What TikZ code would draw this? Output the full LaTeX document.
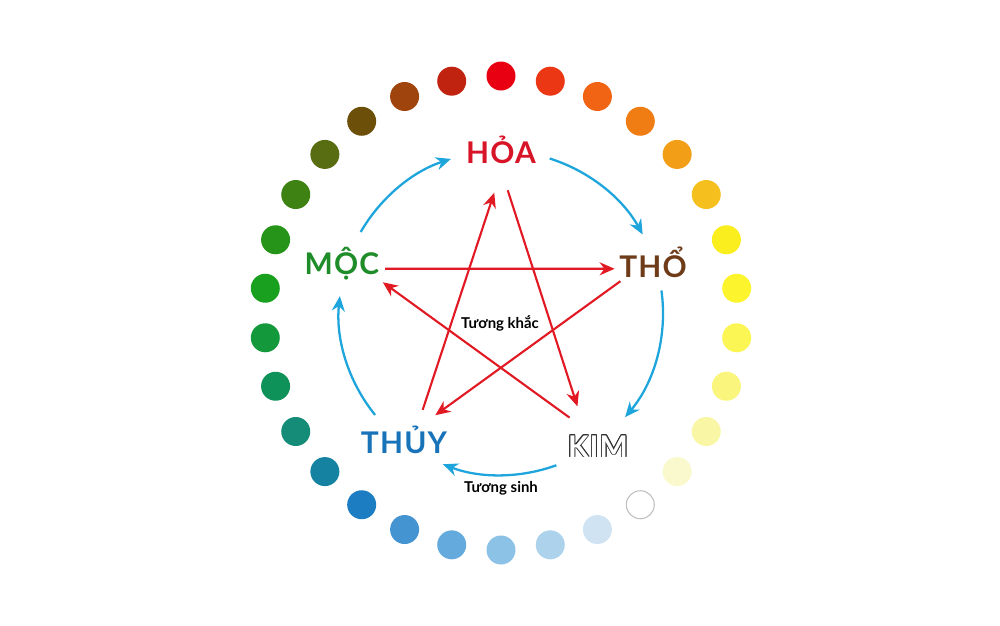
\documentclass[tikz,border=0pt]{standalone}
\usepackage{fontspec}
\setmainfont{Lato}
\newfontfamily\hanhfont{Lato}[LetterSpace=4]
\usepackage{contour}
\usetikzlibrary{arrows.meta,positioning}
\contourlength{0.5pt}
% colour wheel
\definecolor{d0}{RGB}{232,0,18}
\definecolor{d1}{RGB}{235,55,20}
\definecolor{d2}{RGB}{240,100,20}
\definecolor{d3}{RGB}{240,125,20}
\definecolor{d4}{RGB}{242,158,22}
\definecolor{d5}{RGB}{245,192,30}
\definecolor{d6}{RGB}{250,238,30}
\definecolor{d7}{RGB}{252,245,45}
\definecolor{d8}{RGB}{252,246,85}
\definecolor{d9}{RGB}{250,246,125}
\definecolor{d10}{RGB}{249,247,165}
\definecolor{d11}{RGB}{249,249,205}
\definecolor{d12}{RGB}{255,255,255}
\definecolor{d13}{RGB}{208,227,242}
\definecolor{d14}{RGB}{172,210,236}
\definecolor{d15}{RGB}{140,194,230}
\definecolor{d16}{RGB}{100,170,220}
\definecolor{d17}{RGB}{68,148,210}
\definecolor{d18}{RGB}{28,125,195}
\definecolor{d19}{RGB}{20,130,160}
\definecolor{d20}{RGB}{20,140,120}
\definecolor{d21}{RGB}{15,145,90}
\definecolor{d22}{RGB}{20,152,60}
\definecolor{d23}{RGB}{25,160,30}
\definecolor{d24}{RGB}{38,148,25}
\definecolor{d25}{RGB}{62,130,20}
\definecolor{d26}{RGB}{88,108,18}
\definecolor{d27}{RGB}{108,80,10}
\definecolor{d28}{RGB}{160,68,14}
\definecolor{d29}{RGB}{192,35,15}
% elements
\definecolor{hoa}{RGB}{215,20,40}
\definecolor{moc}{RGB}{30,140,40}
\definecolor{tho}{RGB}{110,60,25}
\definecolor{thuy}{RGB}{25,115,185}
\definecolor{khacred}{RGB}{225,25,35}
\definecolor{sinhblue}{RGB}{30,165,220}

\begin{document}
\begin{tikzpicture}[x=0.2mm, y=0.2mm,
    every node/.style={inner sep=0pt},
    hanh/.style={anchor=base, font=\hanhfont\bfseries\fontsize{17}{17}\selectfont},
    note/.style={anchor=base, font=\bfseries\fontsize{8.5}{8.5}\selectfont},
    dinh/.style={circle, minimum size=2.6mm},
    khac/.style={draw=khacred, line width=1.2pt, -{Stealth[length=3mm, width=2.6mm]}},
    sinh/.style={draw=sinhblue, line width=1.3pt, -{Stealth[length=3mm, width=2.6mm]}}]
  \useasboundingbox (-501,-312) rectangle (499,313);

  % dots
  \foreach \k in {0,...,29}
    \fill[d\k] (90-12*\k:237) circle (2.9mm);
  \draw[black!25, line width=0.6pt] (-54:237) circle (2.8mm);

  % the five elements
  \node[hanh, text=hoa] (hoa) at (0,150) {HỎA};
  \node[hanh, text=moc] (moc) at (-159,39) {MỘC};
  \node[hanh, text=tho] (tho) at (152,36) {THỔ};
  \node[hanh, text=thuy] (thuy) at (-97,-140) {THỦY};
  \node[hanh, text=white] (kim) at (97,-144) {\contour{black!80}{KIM}};

  \node[note] (khacnote) at (-1,-15) {Tương khắc};
  \node[note] (sinhnote) at (0,-179) {Tương sinh};

  % star points
  \node[dinh] (vH) at (0,121.5) {};
  \node[dinh] (vM) at (-117,37.5) {};
  \node[dinh] (vT) at (116.5,38) {};
  \node[dinh] (vY) at (-72,-99.5) {};
  \node[dinh] (vK) at (72.5,-99) {};

  \draw[khac] (vM.80) -- (vT.115);
  \draw[khac] (vT.295) -- (vY.-23);
  \draw[khac] (vY.157) -- (vH.190);
  \draw[khac] (vH.10) -- (vK.55);
  \draw[khac] (vK.235) -- (vM.260);

  % outer cycle
  \foreach \a/\b [count=\i] in {150/108, 72.5/29, 8/-40, -70/-111, -141/-186} {
    \coordinate (s\i) at (\a:162);
    \draw[sinh] (s\i) arc[start angle=\a, end angle=\b, radius=32.4mm];
  }
\end{tikzpicture}
\end{document}
